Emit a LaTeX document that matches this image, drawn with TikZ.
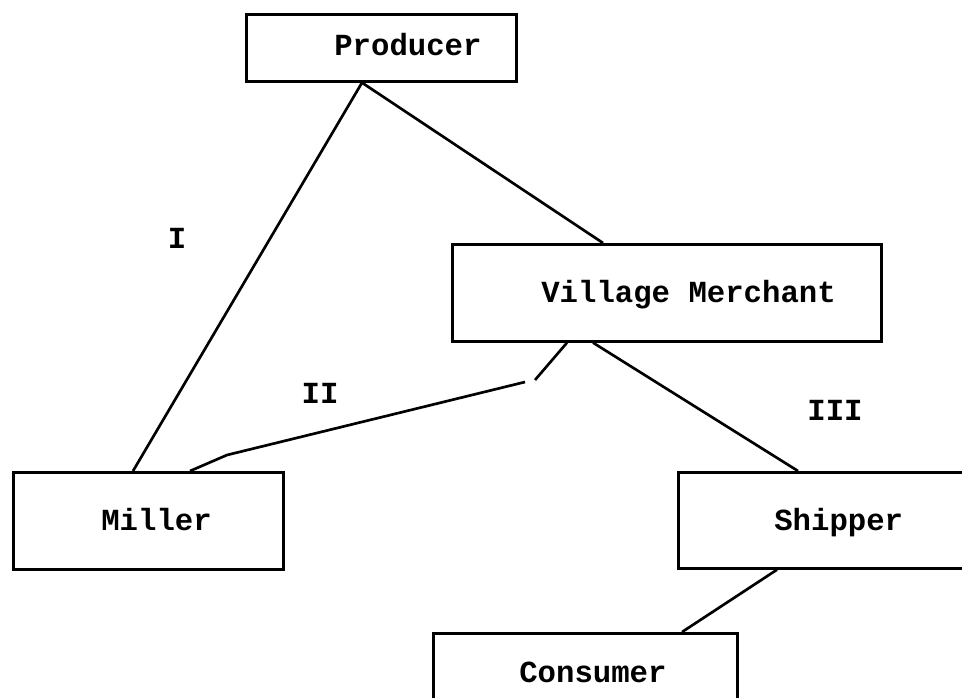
\documentclass[tikz,border=0pt]{standalone}
\usepackage{fontspec}
\setmonofont{Liberation Mono}
\begin{document}
\begin{tikzpicture}[x=0.75pt,y=-0.75pt,
  box/.style={draw, line width=2pt, rectangle, inner sep=0pt, anchor=north west},
  txt/.style={font=\ttfamily\bfseries\fontsize{23}{27}\selectfont, inner sep=0pt, anchor=base west},
  lbl/.style={font=\ttfamily\bfseries\fontsize{23}{27}\selectfont, inner sep=0pt},
  line width=2pt]
\useasboundingbox (0,0) rectangle (962,697);
\node(prod)[box, minimum width=202.5pt, minimum height=50.25pt] at (245,13) {};
\node(vm)[box, minimum width=321.75pt, minimum height=72.75pt] at (451,243) {};
\node(mill)[box, minimum width=202.5pt, minimum height=72.75pt] at (12,471) {};
\node(ship)[box, minimum width=227.25pt, minimum height=72pt] at (677,471) {};
\node(cons)[box, minimum width=228pt, minimum height=51pt] at (432,632) {};
\node(prodtext)[txt] at (333,55) {Producer};
\node(vmtext)[txt] at (540,302) {Village Merchant};
\node(milltext)[txt] at (100,530) {Miller};
\node(shiptext)[txt] at (773,530) {Shipper};
\node(constext)[txt] at (518,682) {Consumer};
\node(one)[lbl] at (177,238) {I};
\node(two)[lbl] at (320,393) {II};
\node(three)[lbl] at (835,410) {III};
\coordinate(gapa) at (535,380);
\coordinate(gapb) at (525,382);
\coordinate(bend) at (227,455);
\draw([shift={(117,0)}]prod.south west) -- ([shift={(121,0)}]mill.north west);
\draw([shift={(117,0)}]prod.south west) -- ([shift={(152,0)}]vm.north west);
\draw([shift={(116,0)}]vm.south west) -- (gapa);
\draw(gapb) -- (bend) -- ([shift={(178,0)}]mill.north west);
\draw([shift={(142,0)}]vm.south west) -- ([shift={(121,0)}]ship.north west);
\draw([shift={(100,0)}]ship.south west) -- ([shift={(250,0)}]cons.north west);
\end{tikzpicture}
\end{document}
